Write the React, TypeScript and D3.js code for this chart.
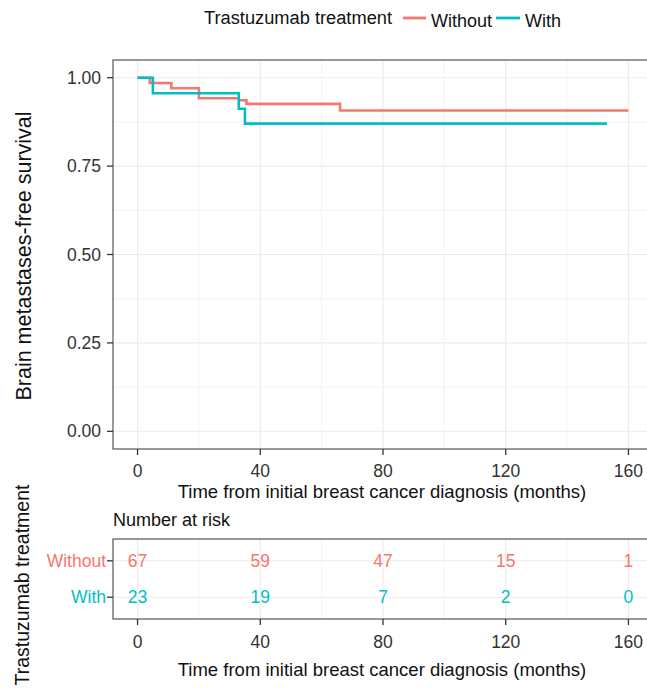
import React from "react";
import * as d3 from "d3";

// Kaplan-Meier steps: [month, survival]
const withoutSteps: [number, number][] = [
  [0, 1.0], [4, 0.985], [11, 0.97], [20, 0.942], [33, 0.936], [35.5, 0.926], [66, 0.907], [160, 0.907],
];
const withSteps: [number, number][] = [
  [0, 1.0], [5, 0.956], [33, 0.912], [35, 0.87], [153, 0.87],
];

const groups = ["Without", "With"];
const groupColors = ["#F8766D", "#00BFC4"];
const riskTimes = [0, 40, 80, 120, 160];
const riskWithout = [67, 59, 47, 15, 1];
const riskWith = [23, 19, 7, 2, 0];
const xTicks = [0, 40, 80, 120, 160];
const xMinor = [20, 60, 100, 140];
const yTicks = [0, 0.25, 0.5, 0.75, 1.0];
const yMinor = [0.125, 0.375, 0.625, 0.875];

const FONT = "Liberation Sans, Arial, Helvetica, sans-serif";
const grid = "#EBEBEB";
const border = "#555555";
const tickCol = "#333333";
const TICK_FS = 17.5;
const TITLE_FS = 18.5;

export default function App() {
  const x = d3.scaleLinear().domain([-8, 168]).range([113, 653]);
  const y = d3.scaleLinear().domain([-0.05, 1.05]).range([449, 60]);
  const yRisk = d3.scaleLinear().domain([0.4, 2.6]).range([619, 539]);
  const tableTop = 539, tableBottom = 619;

  const line = d3.line<[number, number]>()
    .x(d => x(d[0]))
    .y(d => y(d[1]))
    .curve(d3.curveStepAfter);

  const curves = [withoutSteps, withSteps];
  const risks = [riskWithout, riskWith];
  const rowPos = (i: number) => yRisk(groups.length - i);

  return (
    <svg width={647} height={688} style={{ position: "absolute", left: 0, top: 0 }} fontFamily={FONT}>
      <rect width={647} height={688} fill="white" />

      {/* legend */}
      <g fontSize={18} fill="#111">
        <text x={204} y={24} textLength={188} lengthAdjust="spacingAndGlyphs">Trastuzumab treatment</text>
        <line x1={403} x2={426} y1={18} y2={18} stroke={groupColors[0]} strokeWidth={2.8} />
        <text x={431} y={27}>{groups[0]}</text>
        <line x1={496} x2={520} y1={18} y2={18} stroke={groupColors[1]} strokeWidth={2.8} />
        <text x={525} y={27}>{groups[1]}</text>
      </g>

      {/* main panel grid */}
      <g>
        {yMinor.map(v => <line key={"ym" + v} x1={113} x2={653} y1={y(v)} y2={y(v)} stroke={grid} strokeWidth={0.6} />)}
        {xMinor.map(v => <line key={"xm" + v} x1={x(v)} x2={x(v)} y1={60} y2={449} stroke={grid} strokeWidth={0.6} />)}
        {yTicks.map(v => <line key={"yg" + v} x1={113} x2={653} y1={y(v)} y2={y(v)} stroke={grid} strokeWidth={1.1} />)}
        {xTicks.map(v => <line key={"xg" + v} x1={x(v)} x2={x(v)} y1={60} y2={449} stroke={grid} strokeWidth={1.1} />)}
      </g>

      {curves.map((c, i) => (
        <path key={groups[i]} d={line(c) || ""} fill="none" stroke={groupColors[i]} strokeWidth={2.6} />
      ))}

      <rect x={113} y={60} width={540} height={389} fill="none" stroke={border} strokeWidth={1.2} />

      {/* y axis */}
      <g fontSize={TICK_FS} fill={tickCol} textAnchor="end">
        {yTicks.map(v => (
          <g key={"yt" + v}>
            <line x1={107} x2={113} y1={y(v)} y2={y(v)} stroke={tickCol} strokeWidth={1.3} />
            <text x={101} y={y(v) + 6}>{d3.format(".2f")(v)}</text>
          </g>
        ))}
      </g>
      <text transform={`translate(31,256) rotate(-90)`} textAnchor="middle" fontSize={21.5} fill="#111">
        Brain metastases-free survival
      </text>

      {/* x axis */}
      <g fontSize={TICK_FS} fill={tickCol} textAnchor="middle">
        {xTicks.map(v => (
          <g key={"xt" + v}>
            <line x1={x(v)} x2={x(v)} y1={449} y2={455} stroke={tickCol} strokeWidth={1.3} />
            <text x={x(v)} y={477}>{v}</text>
          </g>
        ))}
      </g>
      <text x={382} y={498} textAnchor="middle" fontSize={TITLE_FS} fill="#111">
        Time from initial breast cancer diagnosis (months)
      </text>

      {/* risk table */}
      <text x={113} y={526} fontSize={TITLE_FS - 0.5} fill="#111">Number at risk</text>
      <g>
        {xMinor.map(v => <line key={"rxm" + v} x1={x(v)} x2={x(v)} y1={tableTop} y2={tableBottom} stroke={grid} strokeWidth={0.6} />)}
        {xTicks.map(v => <line key={"rxg" + v} x1={x(v)} x2={x(v)} y1={tableTop} y2={tableBottom} stroke={grid} strokeWidth={1.1} />)}
        {groups.map((g, i) => <line key={"ryg" + g} x1={113} x2={653} y1={rowPos(i)} y2={rowPos(i)} stroke={grid} strokeWidth={1.1} />)}
      </g>
      {groups.map((g, i) => (
        <g key={"row" + g} fontSize={TICK_FS} fill={groupColors[i]} textAnchor="middle">
          {risks[i].map((n, j) => (
            <text key={j} x={x(riskTimes[j])} y={rowPos(i) + 6}>{n}</text>
          ))}
          <line x1={107} x2={113} y1={rowPos(i)} y2={rowPos(i)} stroke={tickCol} strokeWidth={1.3} />
          <text x={106} y={rowPos(i) + 6} textAnchor="end">{g}</text>
        </g>
      ))}
      <rect x={113} y={tableTop} width={540} height={tableBottom - tableTop} fill="none" stroke={border} strokeWidth={1.2} />
      <g fontSize={TICK_FS} fill={tickCol} textAnchor="middle">
        {xTicks.map(v => (
          <g key={"rt" + v}>
            <line x1={x(v)} x2={x(v)} y1={tableBottom} y2={tableBottom + 6} stroke={tickCol} strokeWidth={1.3} />
            <text x={x(v)} y={648}>{v}</text>
          </g>
        ))}
      </g>
      <text x={382} y={676} textAnchor="middle" fontSize={TITLE_FS} fill="#111">
        Time from initial breast cancer diagnosis (months)
      </text>
      <text transform={`translate(29,585) rotate(-90)`} textAnchor="middle" fontSize={19.5} fill="#111">
        Trastuzumab treatment
      </text>
    </svg>
  );
}
